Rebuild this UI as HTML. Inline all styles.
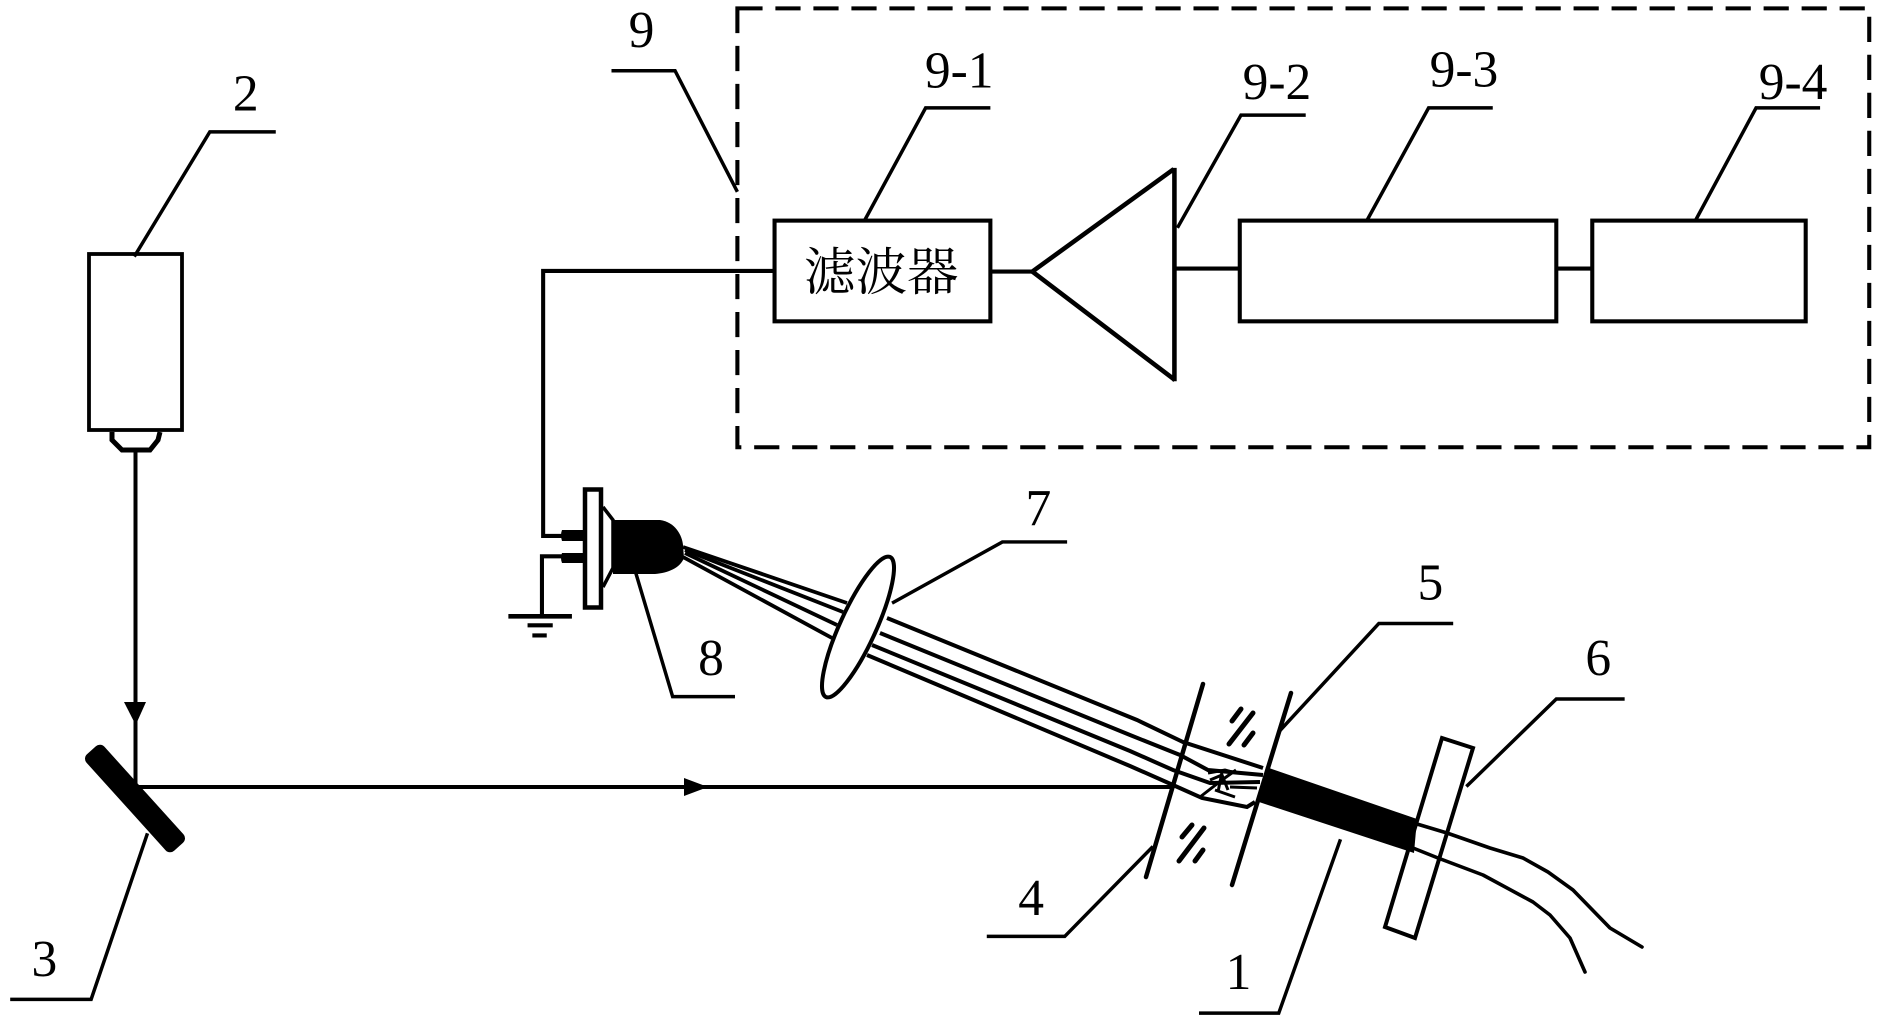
<!DOCTYPE html>
<html>
<head>
<meta charset="utf-8">
<style>
html,body{margin:0;padding:0;background:#fff;width:1880px;height:1024px;overflow:hidden}
svg{display:block}
text{font-family:"Liberation Serif","Noto Serif CJK SC",serif;fill:#000}
</style>
</head>
<body>
<svg width="1880" height="1024" viewBox="0 0 1880 1024" xmlns="http://www.w3.org/2000/svg">
<rect width="1880" height="1024" fill="#fff"/>
<g transform="scale(1.199)" fill="none" stroke="#000" stroke-width="3.4">
  <rect x="615" y="7" width="944" height="366" stroke-dasharray="21 10.700"/>
  <rect x="646" y="184" width="180" height="84"/>
  <rect x="1034" y="184" width="264" height="84"/>
  <rect x="1328" y="184" width="178" height="84"/>
  <path d="M646 226H453V447H470"/>
  <path d="M826 226.500H861"/>
  <path d="M861 226.500L979 141M861 226.500L980 317M979.500 140V318" stroke-width="3.800"/>
  <path d="M981 224H1034M1298 224H1328"/>
  <g stroke-width="2.900">
    <path d="M510 59H563L615 160"/>
    <path d="M721 184L772 90H826"/>
    <path d="M982 190L1035 96H1089"/>
    <path d="M1140 184L1191.500 90H1245"/>
    <path d="M1414 184L1464.600 90H1518"/>
    <path d="M112 214L175 110H230"/>
    <path d="M123 695L76 833.500H8.500"/>
    <path d="M823 781H888L961.600 706"/>
    <path d="M1118 700L1066.500 845H1000"/>
    <path d="M1066 611L1150 520H1212"/>
    <path d="M1223 656L1298 583H1355"/>
    <path d="M530 477L561 581H613"/>
    <path d="M744 503L836 452H890"/>
  </g>
  <path d="M452 513.600V464H470"/>
  <path d="M424 514H477" stroke-width="3.800"/>
  <path d="M440 521.500H461M444 530H456" stroke-width="3.400"/>
</g>
<g transform="scale(1.199)" font-size="43" text-anchor="middle">
  <text x="535" y="39">9</text>
  <text x="800" y="73">9-1</text>
  <text x="1065" y="82.500">9-2</text>
  <text x="1221" y="72">9-3</text>
  <text x="1495.500" y="82.500">9-4</text>
  <text x="205" y="92">2</text>
  <text x="37" y="814">3</text>
  <text x="860" y="763">4</text>
  <text x="1033" y="825">1</text>
  <text x="1193" y="500">5</text>
  <text x="1333" y="563">6</text>
  <text x="866" y="438">7</text>
  <text x="593" y="563">8</text>
  <text x="735" y="242">滤波器</text>
</g>
<!-- camera -->
<g fill="none" stroke="#000">
  <rect x="89" y="254" width="93" height="176" stroke-width="3.800"/>
  <path d="M112 432V440L122 450H150L158 440L160 432" stroke-width="5"/>
  <path d="M135.500 450V786" stroke-width="4"/>
  <path d="M135 787H1172" stroke-width="4"/>
</g>
<rect x="70" y="786.500" width="130" height="24" rx="6" transform="rotate(47.900 135 798.500)" fill="#000"/>
<path d="M124 702H146L135.700 725Z" fill="#000"/>
<path d="M684 778L708 787L684 796Z" fill="#000"/>
<!-- detector -->
<g fill="none" stroke="#000">
  <rect x="585" y="489.500" width="16" height="118" stroke-width="4.500"/>
  <path d="M603 507L613 520V568L603 587" stroke-width="3.500"/>
</g>
<path d="M613 520H660C675 522 682 535 683 545L684 558C680 568 668 573 655 574H613Z" fill="#000"/>
<path d="M562 530H583V541H562Q560 535 562 530ZM562 553H583V563H562Q560 558 562 553Z" fill="#000"/>
<!-- beams left of lens -->
<g fill="none" stroke="#000" stroke-width="3.800">
  <path d="M683 547L847 603"/>
  <path d="M685 550L843 612"/>
  <path d="M685 553L837 625"/>
  <path d="M683 557L832 638"/>
</g>
<!-- beams right of lens -->
<g fill="none" stroke="#000" stroke-width="4">
  <path d="M887 618L1137 720L1183 742L1263 768"/>
  <path d="M880 633L1130 735L1180 755L1208 770L1263 775"/>
  <path d="M872 645L1130 751L1173 770L1210 783L1260 782"/>
  <path d="M867 655L1130 766L1173 785L1202 798L1247 807L1255 802"/>
  <path d="M1208 773L1225 770L1232 772M1210 780L1222 775L1228 790M1200 797L1222 780L1236 770M1215 790L1235 797M1230 787L1257 788M1222 772L1218 792" stroke-width="3"/>
</g>
<ellipse cx="858" cy="627" rx="18" ry="77" transform="rotate(24.600 858 627)" fill="#fff" stroke="#000" stroke-width="4"/>
<!-- windows -->
<g fill="none" stroke="#000" stroke-linecap="round">
  <path d="M1203 684L1146 877" stroke-width="4.500"/>
  <path d="M1291 693L1232 885" stroke-width="4.500"/>
  <g stroke-width="5">
    <path d="M1241 709L1232 721M1253 713L1229 744M1253 733L1244 745"/>
    <path d="M1192 825L1182 837M1204 828L1179 861M1203 850L1195 861"/>
  </g>
</g>
<!-- fiber -->
<path d="M1266 767L1417 819L1414 853L1259 802Z" fill="#000"/>
<path d="M1442 738L1473 748L1415 938L1385 927Z" fill="none" stroke="#000" stroke-width="4"/>
<g fill="none" stroke="#000" stroke-width="3.600" stroke-linejoin="round" stroke-linecap="round">
  <path d="M1417 824L1447 833L1490 848L1523 858L1548 872L1573 890L1610 928L1642 947"/>
  <path d="M1413 848L1438 858L1483 875L1533 902L1550 915L1570 938L1585 972"/>
</g>
</svg>
</body>
</html>
